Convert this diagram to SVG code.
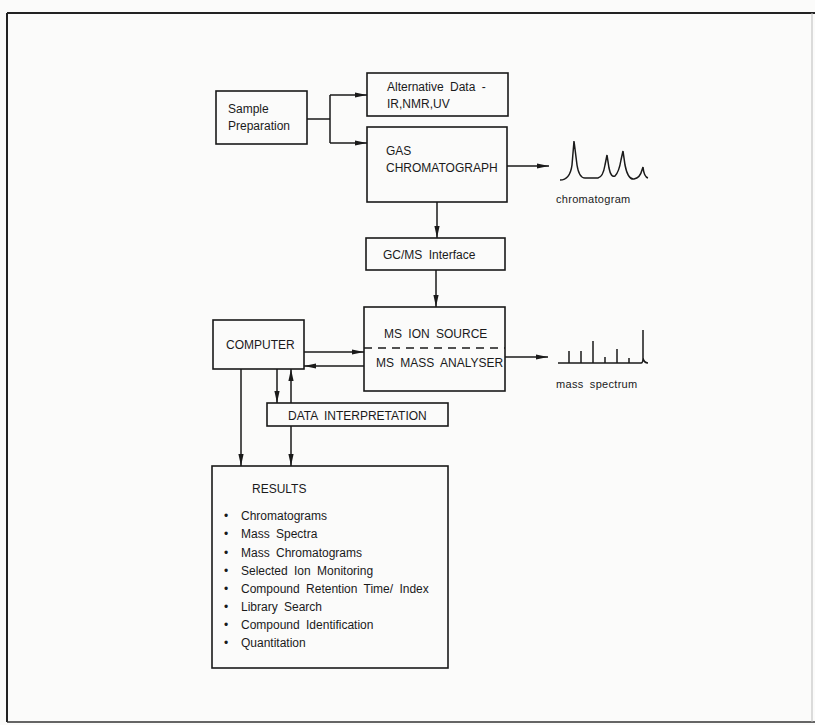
<svg xmlns="http://www.w3.org/2000/svg" width="815" height="725" viewBox="0 0 815 725">
<defs>
<style>
.box{fill:none;stroke:#1a1a1a;stroke-width:1.6}
.ln{fill:none;stroke:#1a1a1a;stroke-width:1.5}
.t{font-family:"Liberation Sans",Arial,sans-serif;font-size:12px;fill:#1a1a1a;word-spacing:3px}
.s{font-size:11px;letter-spacing:0.3px}
</style>
<marker id="ah" markerUnits="userSpaceOnUse" markerWidth="12" markerHeight="6" refX="12" refY="3" orient="auto">
<path d="M0,0.4 L12,3 L0,5.6 z" fill="#1a1a1a"/>
</marker>
</defs>
<rect x="0" y="0" width="815" height="725" fill="#fbfbfa"/>
<g id="frame">
<line x1="7" y1="13" x2="815" y2="13" stroke="#222" stroke-width="2"/>
<line x1="7" y1="13" x2="7" y2="722" stroke="#222" stroke-width="2"/>
<line x1="7" y1="722" x2="815" y2="722" stroke="#333" stroke-width="1.5"/>
<line x1="812" y1="13" x2="812" y2="722" stroke="#bbb" stroke-width="1"/>
</g>
<g id="sample-preparation">
<rect class="box" x="216" y="91" width="91" height="53"/>
<text class="t" x="228" y="113">Sample</text>
<text class="t" x="228" y="130">Preparation</text>
</g>
<g id="alternative-data">
<rect class="box" x="367" y="73" width="141" height="43"/>
<text class="t" x="387" y="91">Alternative Data -</text>
<text class="t" x="387" y="108">IR,NMR,UV</text>
</g>
<g id="gas-chromatograph">
<rect class="box" x="367" y="127" width="140" height="75"/>
<text class="t" x="386" y="155">GAS</text>
<text class="t" x="386" y="172">CHROMATOGRAPH</text>
</g>
<g id="chromatogram">
<path class="ln" d="M560,180 Q570,180 572,165 L574,141 L577,165 Q579,178 585,178 L598,178 Q603,177 605,165 L607,155 L609,168 Q611,178 615,176 Q619,172 621,160 L623,151 L625,165 Q628,180 634,179 Q640,178 642,170 L643,167 Q644,177 648,178"/>
<text class="t s" x="556" y="203">chromatogram</text>
</g>
<g id="gcms-interface">
<rect class="box" x="366" y="238" width="139" height="32"/>
<text class="t" x="383" y="259">GC/MS Interface</text>
</g>
<g id="ms">
<rect class="box" x="364" y="307" width="141" height="84"/>
<line x1="364" y1="348" x2="505" y2="348" stroke="#1a1a1a" stroke-width="1.5" stroke-dasharray="8,6"/>
<text class="t" x="384" y="338">MS ION SOURCE</text>
<text class="t" x="376" y="367">MS MASS ANALYSER</text>
</g>
<g id="mass-spectrum">
<path class="ln" d="M558,363 H641 Q643,363 643,358 V330 M643,358 Q644,363 648,363 M569,363 V351 M581,363 V351 M593,363 V341 M605,363 V357 M617,363 V349 M629,363 V358"/>
<text class="t s" x="556" y="388">mass spectrum</text>
</g>
<g id="computer">
<rect class="box" x="213" y="320" width="91" height="49"/>
<text class="t" x="226" y="349">COMPUTER</text>
</g>
<g id="data-interpretation">
<rect class="box" x="267" y="403" width="181" height="23"/>
<text class="t" x="288" y="420">DATA INTERPRETATION</text>
</g>
<g id="results">
<rect class="box" x="212" y="466" width="236" height="202"/>
<text class="t" x="252" y="493">RESULTS</text>
<g class="t">
<text x="224" y="520">•</text><text x="241" y="520">Chromatograms</text>
<text x="224" y="538">•</text><text x="241" y="538">Mass Spectra</text>
<text x="224" y="557">•</text><text x="241" y="557">Mass Chromatograms</text>
<text x="224" y="575">•</text><text x="241" y="575">Selected Ion Monitoring</text>
<text x="224" y="593">•</text><text x="241" y="593">Compound Retention Time/ Index</text>
<text x="224" y="611">•</text><text x="241" y="611">Library Search</text>
<text x="224" y="629">•</text><text x="241" y="629">Compound Identification</text>
<text x="224" y="647">•</text><text x="241" y="647">Quantitation</text>
</g>
</g>
<g id="connectors" class="ln">
<path d="M307,119 H330 M330,95 V143"/>
<path d="M330,95 H367" marker-end="url(#ah)"/>
<path d="M330,143 H367" marker-end="url(#ah)"/>
<path d="M507,166 H549" marker-end="url(#ah)"/>
<path d="M437,202 V238" marker-end="url(#ah)"/>
<path d="M436,270 V307" marker-end="url(#ah)"/>
<path d="M304,352 H364" marker-end="url(#ah)"/>
<path d="M364,366 H304" marker-end="url(#ah)"/>
<path d="M505,357 H548" marker-end="url(#ah)"/>
<path d="M277,369 V403" marker-end="url(#ah)"/>
<path d="M291,403 V369" marker-end="url(#ah)"/>
<path d="M241,369 V466" marker-end="url(#ah)"/>
<path d="M291,426 V466" marker-end="url(#ah)"/>
</g>
</svg>
